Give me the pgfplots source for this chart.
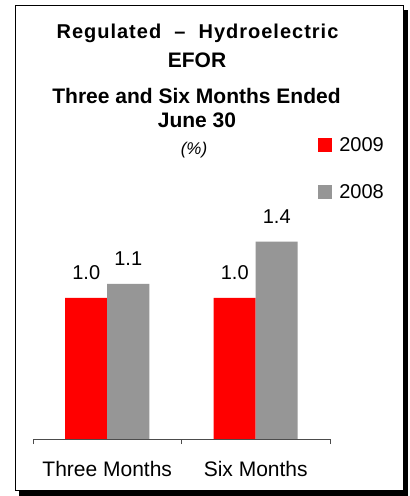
\documentclass[border=0pt]{standalone}
\usepackage{fontspec}
\setmainfont{Liberation Sans}
\usepackage{pgfplots}
\pgfplotsset{compat=1.18}
\definecolor{barred}{RGB}{255,0,0}
\definecolor{bargray}{RGB}{150,150,150}
\begin{document}
\begin{tikzpicture}[x=1pt,y=1pt]
\useasboundingbox (0,0) rectangle (410,496);
% shadow and frame
\fill[black] (19,0) rectangle (408,486);
\filldraw[fill=white,draw=black,line width=1pt] (15,5) rectangle (403,490);
% titles
\node[font=\fontsize{20}{22}\bfseries\addfontfeature{LetterSpace=5}\selectfont] at (197.5,463) {Regulated \ – \ Hydroelectric};
\node[font=\fontsize{21}{22}\bfseries\selectfont] at (197,435.5) {EFOR};
\node[font=\fontsize{21}{22}\bfseries\selectfont] at (196.5,400.5) {Three and Six Months Ended};
\node[font=\fontsize{21}{22}\bfseries\selectfont] at (197,375.5) {June 30};
\node[font=\fontsize{17}{19}\itshape\selectfont] at (194,346) {(\%)};
\begin{axis}[
  at={(33pt,57pt)}, anchor=south west,
  scale only axis, width=297pt, height=282pt,
  xmin=-0.5, xmax=1.5, ymin=0, ymax=2,
  ybar=0pt, bar width=42pt,
  axis x line*=bottom, axis y line=none,
  axis line style={draw=black!70, line width=0.8pt},
  xtick={0,1}, xticklabels={Three Months, Six Months},
  major tick length=0pt,
  minor xtick={-0.5,0.5,1.5}, minor tick length=5pt,
  tick style={draw=black!70, line width=0.8pt},
  tick align=outside,
  xticklabel style={font=\fontsize{21}{24}\selectfont, yshift=-19pt},
  nodes near coords, point meta=y,
  every node near coord/.append style={font=\fontsize{20}{24}\selectfont, yshift=15pt},
  /pgf/number format/fixed, /pgf/number format/fixed zerofill,
  /pgf/number format/precision=1, /pgf/number format/assume math mode=true,
  legend style={draw=none, fill=none, at={(0.96,1.078)}, anchor=north west,
    font=\fontsize{20}{24}\selectfont, row sep=28pt, inner sep=0pt,
    legend cell align=left},
  legend image code/.code={\fill[#1] (0pt,-7pt) rectangle (14pt,7pt); \path (19pt,0pt);},
]
\addplot[fill=barred, draw=none] coordinates {(0,1.0) (1,1.0)};
\addplot[fill=bargray, draw=none] coordinates {(0,1.1) (1,1.4)};
\legend{2009,2008}
\end{axis}
\end{tikzpicture}
\end{document}
